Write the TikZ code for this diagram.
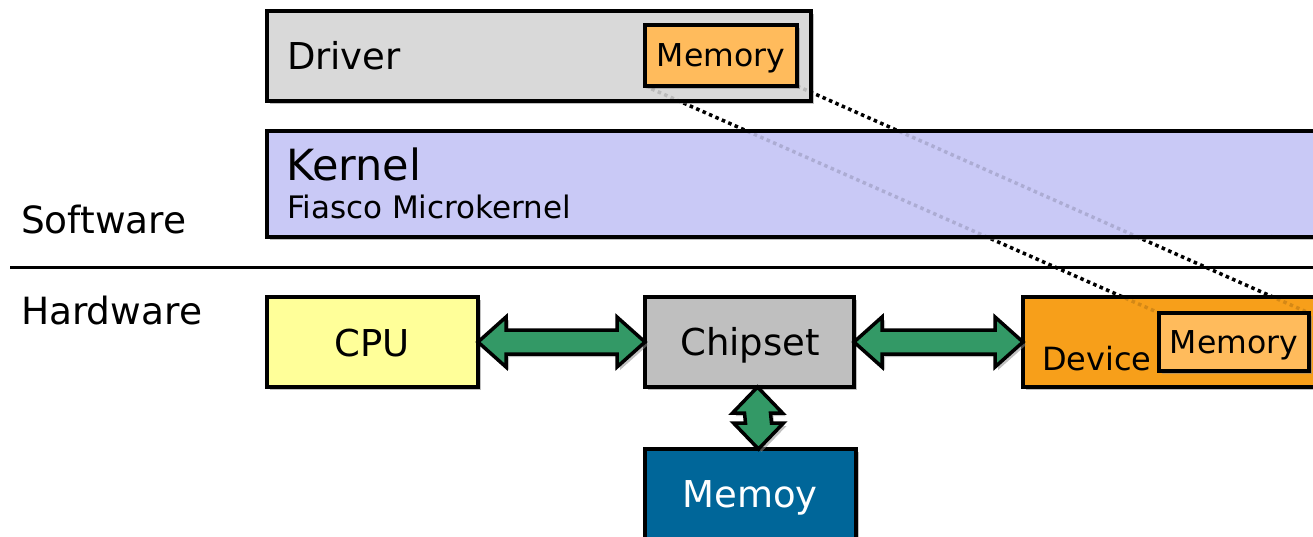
\documentclass[tikz,border=0pt]{standalone}
\usepackage{fontspec}
\setmainfont{DejaVu Sans}
\usetikzlibrary{calc,shadows}
\pgfdeclarelayer{back}
\pgfsetlayers{back,main}
\definecolor{drvgray}{HTML}{D9D9D9}
\definecolor{memorange}{HTML}{FFBB5C}
\definecolor{kernlav}{HTML}{C9C9F6}
\definecolor{cpuyel}{HTML}{FFFF99}
\definecolor{chipgray}{HTML}{BFBFBF}
\definecolor{devorange}{HTML}{F79F1A}
\definecolor{memblue}{HTML}{006699}
\definecolor{arrgreen}{HTML}{339966}
\tikzset{
  shad/.style={drop shadow={shadow xshift=3pt,shadow yshift=-3pt,opacity=0.55,fill=black!45}},
  box/.style={draw=black,line width=3.5pt,rectangle,inner sep=0pt,outer sep=0pt,anchor=north west,shad},
  txt/.style={inner sep=0pt,outer sep=0pt},
  barrow/.style={draw=black,fill=arrgreen,line width=3.5pt,line join=miter,shad},
  dotline/.style={line width=3.5pt,dash pattern=on 3.5pt off 3.5pt},
}
\newcommand{\fs}[1]{\fontsize{#1}{#1}\selectfont}
\begin{document}
\begin{tikzpicture}[x=1pt,y=-1pt]
\useasboundingbox (0,0) rectangle (1313,536);
% boxes
\node[box,fill=drvgray,minimum width=544pt,minimum height=90pt] (drv) at (267,11) {};
\node[box,fill=memorange,minimum width=152pt,minimum height=61pt] (dmem) at (645,25) {};
\node[box,fill=kernlav,minimum width=1080pt,minimum height=106pt] (kern) at (267,131) {};
\node[box,fill=cpuyel,minimum width=211pt,minimum height=90pt] (cpu) at (267,297) {};
\node[box,fill=chipgray,minimum width=209pt,minimum height=90pt] (chip) at (645,297) {};
\node[box,fill=devorange,minimum width=330pt,minimum height=90pt] (dev) at (1023,297) {};
\node[box,fill=memorange,minimum width=150pt,minimum height=58pt] (devmem) at (1159,313) {};
\node[box,fill=memblue,minimum width=211pt,minimum height=120pt] (mem) at (645,449) {};
% separator
\coordinate (sepL) at (10,267);
\coordinate (sepR) at (1320,267);
\draw[line width=3pt] (sepL) -- (sepR);
% texts
\node[txt,anchor=base west] (tdrv) at (287,69) {\fs{37}Driver};
\node[txt,anchor=base] (tdmem) at (721,66) {\fs{31.5}Memory};
\node[txt,anchor=base west] (tkern) at (286,180) {\fs{43}Kernel};
\node[txt,anchor=base west] (tfiasco) at (287,218) {\fs{31}Fiasco Microkernel};
\node[txt,anchor=base west] (tsw) at (21,233) {\fs{37.5}Software};
\node[txt,anchor=base west] (thw) at (21,324) {\fs{37.5}Hardware};
\node[txt,anchor=base] (tcpu) at (372,356) {\fs{37}CPU};
\node[txt,anchor=base] (tchip) at (750,355) {\fs{37}Chipset};
\node[txt,anchor=base west] (tdev) at (1042,370) {\fs{32}Device};
\node[txt,anchor=base] (tdevmem) at (1234,353) {\fs{31.5}Memory};
\node[txt,anchor=base,white] (tmem) at (750,507) {\fs{37}Memoy};
% arrows
\draw[barrow] (cpu.east) -- ++(28,-25) -- ++(0,13) -- ($(chip.west)+(-28,-12)$) -- ++(0,-13) -- (chip.west)
  -- ++(-28,25) -- ++(0,-13) -- ($(cpu.east)+(28,12)$) -- ++(0,13) -- cycle;
\draw[barrow] (chip.east) -- ++(28,-25) -- ++(0,13) -- ($(dev.west)+(-28,-12)$) -- ++(0,-13) -- (dev.west)
  -- ++(-28,25) -- ++(0,-13) -- ($(chip.east)+(28,12)$) -- ++(0,13) -- cycle;
\coordinate (vt) at ($(chip.south)+(8,0)$);
\coordinate (vb) at ($(mem.north)+(8,0)$);
\draw[barrow] (vt) -- ++(25,26) -- ++(-12,0) -- ($(vb)+(13,-26)$) -- ++(12,0) -- (vb)
  -- ++(-25,-26) -- ++(12,0) -- ($(vt)+(-13,26)$) -- ++(-12,0) -- cycle;
% dotted links
\begin{pgfonlayer}{back}
\draw[dotline] (dmem.south west) -- (devmem.north west);
\draw[dotline] (dmem.south east) -- (devmem.north east);
\end{pgfonlayer}
\draw[dotline,draw opacity=0.14] (dmem.south west) -- (devmem.north west);
\draw[dotline,draw opacity=0.14] (dmem.south east) -- (devmem.north east);
\end{tikzpicture}
\end{document}
